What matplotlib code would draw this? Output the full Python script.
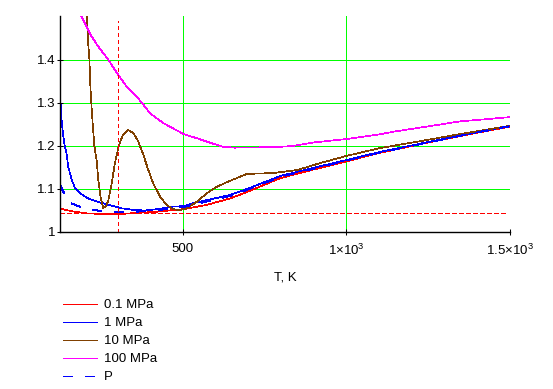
import matplotlib
matplotlib.use("Agg")
import matplotlib.pyplot as plt

plt.rcParams["font.family"] = ["Liberation Sans", "DejaVu Sans"]
plt.rcParams["mathtext.fontset"] = "custom"
plt.rcParams["mathtext.rm"] = "Liberation Sans"
plt.rcParams["lines.antialiased"] = False

# temperature (K) and ratio values, one pair of lists per trace
T_01 = [124, 149, 170, 210, 261, 312, 375, 420, 470, 501, 573, 644, 696, 797,
        898, 999, 1102, 1250, 1375, 1500]
v_01 = [1.055, 1.050, 1.047, 1.043, 1.042, 1.042, 1.045, 1.047, 1.051, 1.053,
        1.063, 1.078, 1.093, 1.125, 1.145, 1.164, 1.184, 1.208, 1.227, 1.245]

T_1 = [124, 127, 129, 134, 139, 144, 149, 160, 170, 185, 210, 241, 272, 313,
       353, 384, 420, 470, 501, 532, 573, 644, 696, 797, 898, 999, 1102, 1250,
       1375, 1500]
v_1 = [1.310, 1.291, 1.260, 1.222, 1.198, 1.183, 1.152, 1.121, 1.102, 1.090,
       1.078, 1.070, 1.063, 1.055, 1.051, 1.050, 1.053, 1.059, 1.060, 1.067,
       1.074, 1.086, 1.100, 1.130, 1.149, 1.167, 1.186, 1.209, 1.228, 1.247]

T_10 = [205, 210, 214, 217, 221, 226, 229, 236, 241, 248, 256, 264, 272, 282,
        292, 302, 310, 317, 333, 348, 363, 379, 394, 409, 430, 450, 470, 491,
        511, 542, 573, 603, 644, 696, 775, 849, 919, 1001, 1102, 1225, 1350, 1500]
v_10 = [1.520, 1.439, 1.400, 1.337, 1.284, 1.230, 1.200, 1.167, 1.121, 1.082,
        1.056, 1.059, 1.074, 1.113, 1.160, 1.195, 1.214, 1.226, 1.237, 1.230,
        1.211, 1.179, 1.144, 1.113, 1.082, 1.063, 1.053, 1.051, 1.055, 1.070,
        1.090, 1.105, 1.119, 1.135, 1.137, 1.144, 1.160, 1.177, 1.195, 1.211,
        1.228, 1.247]

T_100 = [180, 200, 221, 241, 272, 302, 328, 358, 379, 399, 440, 501, 542, 593,
         623, 659, 761, 797, 837, 898, 999, 1102, 1143, 1245, 1347, 1500]
v_100 = [1.515, 1.485, 1.454, 1.431, 1.400, 1.365, 1.338, 1.315, 1.296, 1.276,
         1.253, 1.228, 1.218, 1.205, 1.198, 1.196, 1.197, 1.198, 1.200, 1.208,
         1.216, 1.227, 1.233, 1.245, 1.257, 1.267]

T_P = [124, 134, 144, 154, 170, 185, 210, 263, 290, 346, 400, 470, 501, 573,
       644, 696, 797, 898, 999, 1102, 1250, 1375, 1500]
v_P = [1.109, 1.094, 1.082, 1.068, 1.063, 1.059, 1.051, 1.049, 1.047, 1.047,
       1.049, 1.055, 1.058, 1.071, 1.084, 1.098, 1.128, 1.147, 1.166, 1.185,
       1.208, 1.228, 1.246]

# reference markers
ref_T = 300
ref_T_top = 1.49
ref_ratio = 1.0435
ref_ratio_end = 1490

labels = ["0.1 MPa", "1 MPa", "10 MPa", "100 MPa", "P"]
x_ticks = [500, 1000, 1500]
x_ticklabels = ["500", r"$1{\times}10^{3}$", r"$1.5{\times}10^{3}$"]
y_ticks = [1.0, 1.1, 1.2, 1.3, 1.4]
y_ticklabels = ["1", "1.1", "1.2", "1.3", "1.4"]

fig = plt.figure(figsize=(5.53, 3.89), dpi=100)
ax = fig.add_axes([60 / 553, 1 - 232 / 389, 450 / 553, 216 / 389])

lw = 0.5
h1, = ax.plot(T_01, v_01, color="#ff0000", lw=lw)
h2, = ax.plot(T_1, v_1, color="#0000ff", lw=lw)
h3, = ax.plot(T_10, v_10, color="#804000", lw=lw)
h4, = ax.plot(T_100, v_100, color="#ff00ff", lw=lw)
h5, = ax.plot(T_P, v_P, color="#0000ff", lw=lw, dashes=(14, 18))

ax.vlines(ref_T, 1.0, ref_T_top, colors="#ff0000", lw=0.75,
          linestyles=(0, (3, 3)), antialiased=False)
ax.hlines(ref_ratio, T_01[0], ref_ratio_end, colors="#ff0000", lw=0.75,
          linestyles=(0, (4, 2)), antialiased=False)

ax.set_xlim(124, 1500)
ax.set_ylim(1.0, 1.502)
ax.set_xticks(x_ticks)
ax.set_xticklabels(x_ticklabels)
ax.set_yticks(y_ticks)
ax.set_yticklabels(y_ticklabels)
ax.tick_params(direction="inout", length=4, width=0.75, labelsize=9.5)
ax.tick_params(axis="x", pad=6)
ax.tick_params(axis="y", pad=1)

ax.grid(True, color="#00ff00", lw=0.5)
ax.set_axisbelow(True)
for side in ["top", "right"]:
    ax.spines[side].set_visible(False)
for side in ["left", "bottom"]:
    ax.spines[side].set_linewidth(1.0)

ax.set_xlabel("T, K", fontsize=9.5)
ax.xaxis.set_label_coords(0.5, -(278 - 232) / 216)
ax.xaxis.label.set_va("center")

fig.legend([h1, h2, h3, h4, h5], labels, loc="upper left",
           bbox_to_anchor=(63 / 553, 1 - 299 / 389), frameon=False,
           fontsize=9.5, handlelength=2.58, handletextpad=0.53,
           labelspacing=0.44, borderpad=0, borderaxespad=0)

fig.savefig("out.png", dpi=100)
